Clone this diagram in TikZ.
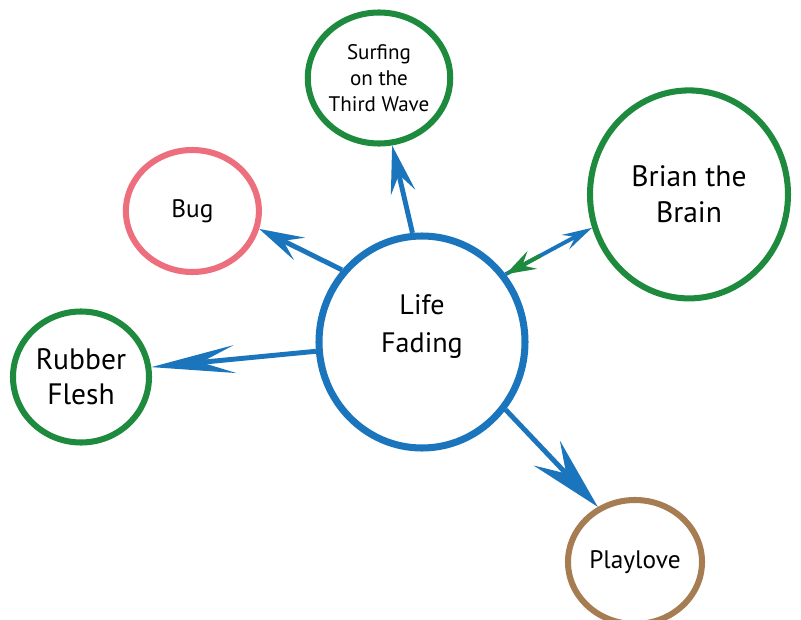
\documentclass[tikz,border=0pt]{standalone}
\usepackage{fontspec}
\setmainfont{PT Sans}
\usetikzlibrary{arrows.meta,shapes.geometric,calc}
\definecolor{lfblue}{RGB}{27,117,188}
\definecolor{lfgreen}{RGB}{30,138,61}
\definecolor{lfpink}{RGB}{237,110,125}
\definecolor{lfbrown}{RGB}{166,124,82}
\tikzset{every picture/.style={line width=0.75pt}}
\tikzset{bubble/.style={ellipse,draw,line width=4.3pt,inner sep=0pt,align=center}}

\begin{document}
\begin{tikzpicture}
\useasboundingbox (0,0) rectangle (20.025,-15.5);
%
\node[bubble,draw=lfblue,line width=5pt,minimum width=5.15cm,minimum height=5.3cm,text depth=0.93cm,
  font=\fontsize{20}{27}\selectfont] (life) at (10.55,-8.55) {Life\\Fading};
\node[bubble,draw=lfgreen,minimum width=3.55cm,minimum height=3.275cm,
  font=\fontsize{15}{18.5}\selectfont] (surf) at (9.475,-1.95) {Surfing\\on the\\Third Wave};
\node[bubble,draw=lfgreen,minimum width=4.95cm,minimum height=5.2cm,
  font=\fontsize{21}{25.5}\selectfont] (brian) at (17.225,-4.86) {Brian the\\Brain};
\node[bubble,draw=lfpink,minimum width=3.325cm,minimum height=3.05cm,
  font=\fontsize{18}{22}\selectfont] (bug) at (4.81,-5.275) {Bug};
\node[bubble,draw=lfgreen,minimum width=3.4cm,minimum height=3.275cm,
  font=\fontsize{21}{25}\selectfont] (rubber) at (2.025,-9.425) {Rubber\\Flesh};
\node[bubble,draw=lfbrown,minimum width=3.35cm,minimum height=3.1cm,
  font=\fontsize{18}{22}\selectfont] (play) at (15.875,-14.05) {Playlove};
%
\foreach \Source/\Target/\Len/\Wid/\Ins in {%
	life.138/bug.-15/1.12cm/0.62cm/0.45cm,
	life.95/surf.-79/1.2cm/0.62cm/0.45cm,
	life.185/rubber.8/2.1cm/0.7cm/0.85cm,
	life.-39/play.124/1.85cm/0.9cm/0.7cm%
    }
\draw[lfblue,line width=3.5pt,-{Stealth[length=\Len,width=\Wid,inset=\Ins]}] (\Source) to (\Target);
%
\draw[lfblue,line width=2.8pt,-{Stealth[length=0.75cm,width=0.4cm,inset=0.28cm]}] (life.39) to (brian.199);
\draw[lfgreen,line width=2.8pt,{Stealth[length=0.75cm,width=0.5cm,inset=0.28cm]}-] (life.39) to ($(life.39)!0.4!(brian.199)$);
\end{tikzpicture}
\end{document}
